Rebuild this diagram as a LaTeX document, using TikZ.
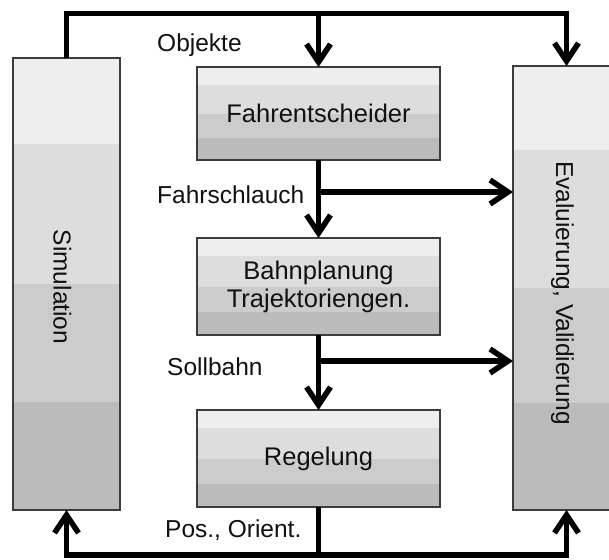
\documentclass[tikz,border=0pt]{standalone}
\usepackage{fontspec}
\setmainfont{Liberation Sans}
\usetikzlibrary{arrows.meta,calc}
\definecolor{bandA}{HTML}{EEEEEE}
\definecolor{bandB}{HTML}{DDDDDD}
\definecolor{bandC}{HTML}{CCCCCC}
\definecolor{bandD}{HTML}{BBBBBB}
\definecolor{frame}{HTML}{3C3C3C}
\definecolor{txt}{HTML}{111111}
\tikzset{
  blk/.style={draw=frame, line width=1.4pt, inner sep=0pt, outer sep=0pt,
    font=\fontsize{25.5}{28}\selectfont, text=txt, align=center,
    path picture={
      \foreach \a/\b/\c in {0/0.19/bandA, 0.19/0.5/bandB, 0.5/0.76/bandC, 0.76/1/bandD}{
        \fill[\c] ($(path picture bounding box.north west)!\a!(path picture bounding box.south west)$)
          rectangle ($(path picture bounding box.north east)!\b!(path picture bounding box.south east)$);
      }
    }},
  lbl/.style={font=\fontsize{24.5}{28}\selectfont, text=txt, inner sep=0pt, anchor=base west},
  rot/.style={font=\fontsize{24.5}{28}\selectfont, text=txt, inner sep=0pt, rotate=-90},
  conn/.style={line width=5.5pt, draw=black, line join=miter},
  arr/.style={conn, -{Straight Barb[length=18pt,width=24pt]}}
}
\begin{document}
\begin{tikzpicture}[x=1pt,y=-1pt]
\clip (0,0) rectangle (609,559);
\fill[white] (0,0) rectangle (609,559);
% boxes
\node[blk, minimum width=107pt, minimum height=452pt] (sim) at (66.5,284) {};
\node[blk, minimum width=107pt, minimum height=444pt] (eval) at (566.5,288) {};
\node[blk, minimum width=243pt, minimum height=93pt] (fahr) at (318.5,113.5) {Fahrentscheider};
\node[blk, minimum width=243pt, minimum height=97pt] (bahn) at (318.5,286.5) {Bahnplanung\\[0pt]Trajektoriengen.};
\node[blk, minimum width=243pt, minimum height=97pt] (reg) at (318.5,458.5) {Regelung};
\node[rot] (simtxt) at ([xshift=-4pt,yshift=-3pt]sim.center) {Simulation};
\node[rot] (evaltxt) at ([xshift=-4pt,yshift=-5pt]eval.center) {Evaluierung, Validierung};
% labels
\node[lbl] (lobj) at (157,52) {Objekte};
\node[lbl] (lfahr) at (157,203) {Fahrschlauch};
\node[lbl] (lsoll) at (167,375) {Sollbahn};
\node[lbl] (lpos) at (165,537) {Pos., Orient.};
% helper coordinates
\coordinate (ytop) at (0,13.5);
\coordinate (y1) at (0,192);
\coordinate (y2) at (0,361);
\coordinate (ybot) at (0,555);
% connectors
\draw[arr] (sim.north) -- (sim.north |- ytop) -| (eval.north);
\draw[arr] (fahr.north |- ytop) -- (fahr.north);
\draw[arr] (fahr.south) -- (bahn.north);
\draw[arr] (fahr.south |- y1) -- (eval.west |- y1);
\draw[arr] (bahn.south) -- (reg.north);
\draw[arr] (bahn.south |- y2) -- (eval.west |- y2);
\draw[arr] (reg.south) -- (reg.south |- ybot) -| (sim.south);
\draw[arr] (reg.south |- ybot) -| (eval.south);
\end{tikzpicture}
\end{document}
